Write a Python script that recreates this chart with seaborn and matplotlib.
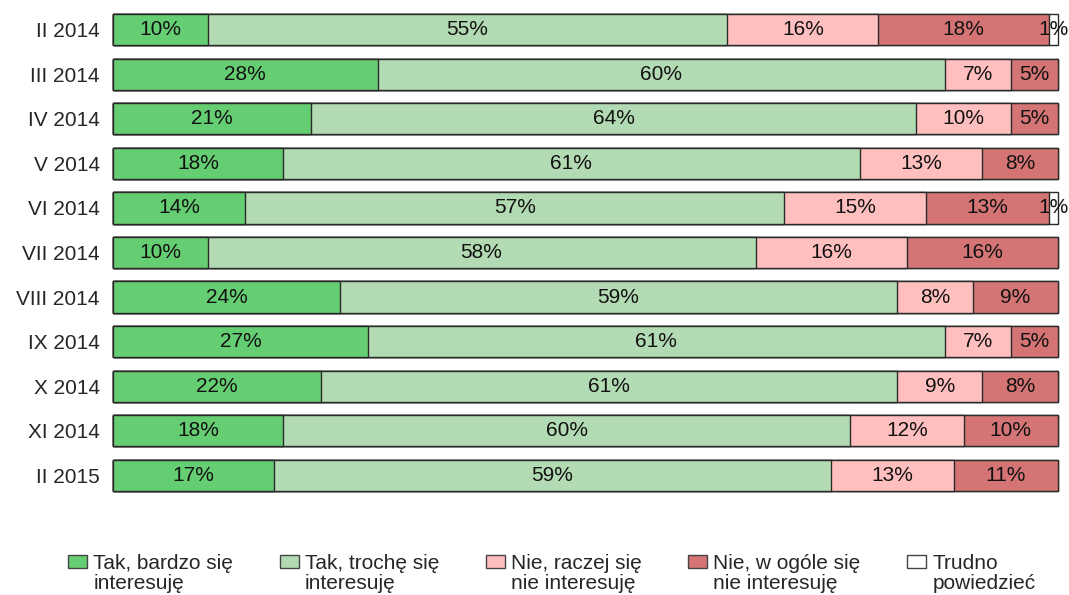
import pandas as pd
import seaborn as sns
import matplotlib.pyplot as plt
from matplotlib.patches import Patch

months = ['II 2014', 'III 2014', 'IV 2014', 'V 2014', 'VI 2014', 'VII 2014',
          'VIII 2014', 'IX 2014', 'X 2014', 'XI 2014', 'II 2015']
categories = ['Tak, bardzo się\ninteresuję', 'Tak, trochę się\ninteresuję',
              'Nie, raczej się\nnie interesuję', 'Nie, w ogóle się\nnie interesuję',
              'Trudno\npowiedzieć']
bardzo = [10, 28, 21, 18, 14, 10, 24, 27, 22, 18, 17]
troche = [55, 60, 64, 61, 57, 58, 59, 61, 61, 60, 59]
raczej_nie = [16, 7, 10, 13, 15, 16, 8, 7, 9, 12, 13]
wcale = [18, 5, 5, 8, 13, 16, 9, 5, 8, 10, 11]
trudno = [1, 0, 0, 0, 1, 0, 0, 0, 0, 0, 0]
colors = ['#66CE72', '#B3DBB3', '#FFBFBF', '#D47474', '#FFFFFF']

series = [bardzo, troche, raczej_nie, wcale, trudno]
FS = 15

sns.set_style("white")
plt.rcParams['font.family'] = ['Liberation Sans', 'DejaVu Sans']

fig = plt.figure(figsize=(10.69, 5.95), dpi=100)
ax = fig.add_axes([113 / 1069, 1 - 497.5 / 595, 945 / 1069, 490 / 595])

# stacked bars: draw cumulative totals from the longest down
cums = []
running = [0] * len(months)
for s in series:
    running = [r + v for r, v in zip(running, s)]
    cums.append(list(running))

for k in range(len(series) - 1, -1, -1):
    df = pd.DataFrame({'month': months, 'cum': cums[k]})
    sns.barplot(data=df, x='cum', y='month', orient='h', order=months,
                color=colors[k], edgecolor='#2a2a2a', linewidth=1.0,
                width=0.7, saturation=1, ax=ax)

for p in ax.patches:
    p.set_clip_on(False)

# value labels
for k, s in enumerate(series):
    for i, v in enumerate(s):
        if v > 0:
            ax.text(cums[k][i] - v / 2, i, f"{v}%", ha='center', va='center',
                    fontsize=FS, color='#111111')

ax.set_xlim(0, 100)
ax.set_ylim(len(months) - 0.5, -0.5)
ax.set_xlabel('')
ax.set_ylabel('')
ax.set_xticks([])
ax.tick_params(axis='y', length=0, labelsize=FS, pad=9.5)
for sp in ax.spines.values():
    sp.set_visible(False)

# legend: first line via legend, second line added below each label
first_lines = [c.split('\n')[0] for c in categories]
second_lines = [c.split('\n')[1] for c in categories]
handles = [Patch(facecolor=c, edgecolor='#444444', linewidth=1.0) for c in colors]
leg = fig.legend(handles, first_lines, loc='upper left',
                 bbox_to_anchor=(68 / 1069, 1 - 554 / 595),
                 ncol=5, frameon=False, handlelength=0.92, handleheight=0.58,
                 handletextpad=0.3, columnspacing=2.22, borderaxespad=0, borderpad=0,
                 prop={'size': FS})

fig.canvas.draw()
inv = fig.transFigure.inverted()
for t, line2 in zip(leg.get_texts(), second_lines):
    bb = t.get_window_extent()
    x, y = inv.transform((bb.x0, bb.y0 - 20))
    fig.text(x, y, line2, ha='left', va='bottom', fontsize=FS, color=t.get_color())

fig.savefig('out.png', dpi=100)
